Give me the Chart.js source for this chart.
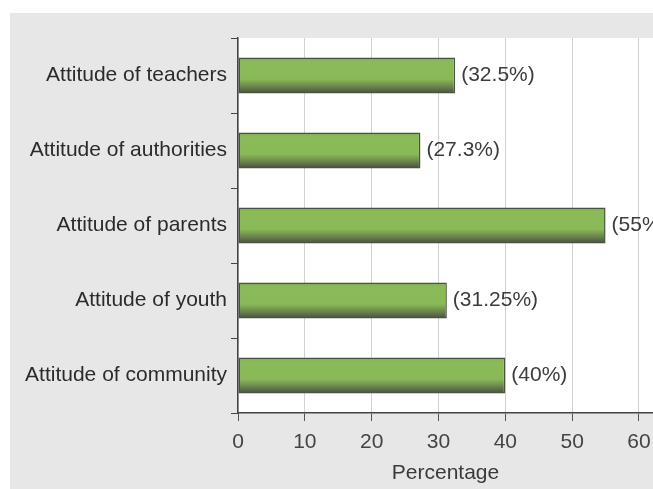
<!DOCTYPE html>
<html>
<head>
<meta charset="utf-8">
<script src="https://cdn.jsdelivr.net/npm/chart.js@4"></script>
<style>
  html, body { margin: 0; padding: 0; background: #ffffff; }
  #panel {
    position: absolute; left: 10px; top: 13px;
    width: 643px; height: 476px;
    background: #e7e7e7;
  }
  #chart { display: block; }
</style>
</head>
<body>
<div id="panel"><canvas id="chart" width="643" height="476"></canvas></div>
<script>
// Survey factors and the share of respondents citing each one
const categories = [
  'Attitude of teachers',
  'Attitude of authorities',
  'Attitude of parents',
  'Attitude of youth',
  'Attitude of community'
];
const percentages = [32.5, 27.3, 55, 31.25, 40];
const xTicks = [0, 10, 20, 30, 40, 50, 60];
const axisTitle = 'Percentage';

const FONT = "'Liberation Sans', Arial, Helvetica, sans-serif";

// White plotting area on the grey panel
const plotBackground = {
  id: 'plotBackground',
  beforeDraw(chart) {
    const { ctx, chartArea: a } = chart;
    ctx.save();
    ctx.fillStyle = '#ffffff';
    ctx.fillRect(a.left, a.top, a.right - a.left, a.bottom - a.top);
    ctx.restore();
  }
};

// "(value%)" written just past the end of each bar
const valueLabels = {
  id: 'valueLabels',
  afterDatasetsDraw(chart) {
    const { ctx } = chart;
    const meta = chart.getDatasetMeta(0);
    ctx.save();
    ctx.font = '21px ' + FONT;
    ctx.fillStyle = '#3c3c3c';
    ctx.textAlign = 'left';
    ctx.textBaseline = 'middle';
    meta.data.forEach((bar, i) => {
      ctx.fillText('(' + percentages[i] + '%)', bar.x + 6, bar.y);
    });
    ctx.restore();
  }
};

// Vertical shading of each bar: bright green with a darker lower edge
function barFill(context) {
  const chart = context.chart;
  if (!chart.chartArea || !chart.scales.y) return '#8aba58';
  const y = chart.scales.y;
  const center = y.getPixelForValue(context.dataIndex);
  const half = (y.height / categories.length) * 0.48 / 2;
  const g = chart.ctx.createLinearGradient(0, center - half, 0, center + half);
  g.addColorStop(0, '#80ad50');
  g.addColorStop(0.12, '#8bbb58');
  g.addColorStop(0.6, '#8aba57');
  g.addColorStop(0.8, '#6b864d');
  g.addColorStop(1, '#474e42');
  return g;
}

new Chart(document.getElementById('chart'), {
  type: 'bar',
  data: {
    labels: categories,
    datasets: [{
      data: percentages,
      backgroundColor: barFill,
      borderColor: '#48543f',
      borderWidth: 1.5,
      borderSkipped: false,
      barPercentage: 0.48,
      categoryPercentage: 1
    }]
  },
  options: {
    indexAxis: 'y',
    responsive: false,
    animation: false,
    layout: { padding: { top: 25, right: 0, left: 0, bottom: 0 } },
    plugins: {
      legend: { display: false },
      tooltip: { enabled: false }
    },
    scales: {
      x: {
        type: 'linear',
        min: 0,
        max: 62.1,
        afterFit(scale) {
          scale.height = 76;
          // the plot runs right up to the panel edge
          scale.paddingRight = 0;
          scale.paddingLeft = 0;
        },
        afterBuildTicks(scale) {
          scale.ticks = xTicks.map(v => ({ value: v }));
        },
        ticks: {
          stepSize: 10,
          includeBounds: false,
          padding: 9,
          color: '#444444',
          font: { family: FONT, size: 21 }
        },
        grid: {
          color: '#d2d2d2',
          lineWidth: 1,
          tickColor: '#555555',
          tickLength: 8,
          drawOnChartArea: true
        },
        border: { display: true, color: '#444444', width: 1.5 },
        title: {
          display: true,
          text: axisTitle,
          color: '#3a3a3a',
          font: { family: FONT, size: 21 },
          padding: { top: 2, bottom: 3 }
        }
      },
      y: {
        type: 'category',
        afterFit(scale) { scale.width = 228; },
        ticks: {
          padding: 4,
          color: '#2b2b2b',
          font: { family: FONT, size: 21 }
        },
        grid: {
          offset: true,
          drawOnChartArea: false,
          drawTicks: true,
          tickLength: 7,
          tickColor: '#444444'
        },
        border: { display: true, color: '#444444', width: 1.5 }
      }
    }
  },
  plugins: [plotBackground, valueLabels]
});
</script>
</body>
</html>
